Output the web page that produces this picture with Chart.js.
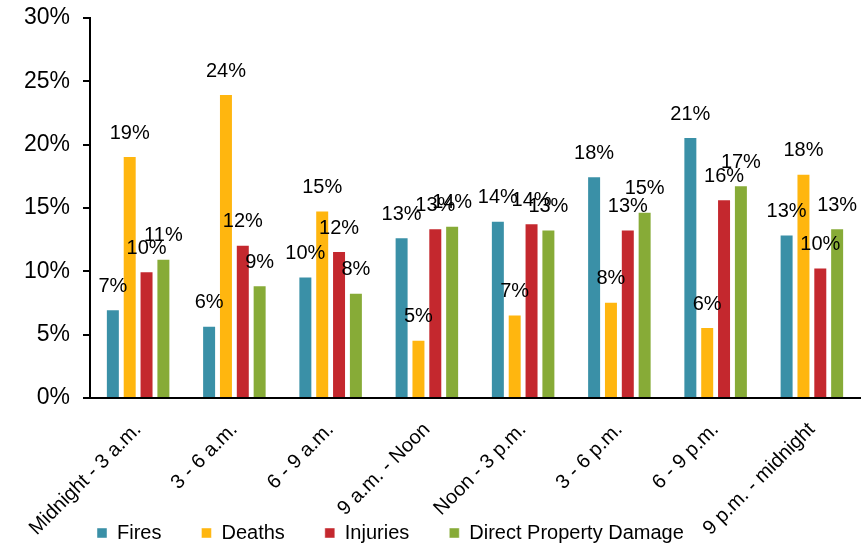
<!DOCTYPE html>
<html>
<head>
<meta charset="utf-8">
<script src="https://cdn.jsdelivr.net/npm/chart.js@4/dist/chart.umd.min.js"></script>
<style>
  html, body { margin: 0; padding: 0; background: #fff; }
  #wrap { width: 865px; height: 546px; }
</style>
</head>
<body>
<div id="wrap"><canvas id="c" width="865" height="546"></canvas></div>
<script>
const categories = ['Midnight - 3 a.m.', '3 - 6 a.m.', '6 - 9 a.m.', '9 a.m. - Noon', 'Noon - 3 p.m.', '3 - 6 p.m.', '6 - 9 p.m.', '9 p.m. - midnight'];
const fires    = [7.0, 5.7, 9.6, 12.7, 14.0, 17.5, 20.6, 12.9];
const deaths   = [19.1, 24.0, 14.8, 4.6, 6.6, 7.6, 5.6, 17.7];
const injuries = [10.0, 12.1, 11.6, 13.4, 13.8, 13.3, 15.7, 10.3];
const damage   = [11.0, 8.9, 8.3, 13.6, 13.3, 14.7, 16.8, 13.4];
const yTicks   = [0, 5, 10, 15, 20, 25, 30];

const FONT = "'Liberation Sans', Arial, sans-serif";

const barLabels = {
  id: 'barLabels',
  afterDatasetsDraw(chart) {
    const ctx = chart.ctx;
    ctx.save();
    ctx.font = '20px ' + FONT;
    ctx.fillStyle = '#000';
    ctx.textAlign = 'center';
    ctx.textBaseline = 'middle';
    chart.data.datasets.forEach((ds, di) => {
      const meta = chart.getDatasetMeta(di);
      meta.data.forEach((bar, i) => {
        ctx.fillText(Math.round(ds.data[i]) + '%', bar.x, bar.y - 23);
      });
    });
    ctx.restore();
  }
};

const layoutTweak = {
  id: 'layoutTweak',
  afterLayout(chart) {
    const lg = chart.legend;
    if (lg && lg.lineWidths) {
      const p = lg.options.labels.padding;
      const start = (lg.left + p + lg.right - lg.lineWidths[0]) / 2;
      const dx = 97 - start;
      lg.left += dx; lg.right += dx;
      lg.top += 7; lg.bottom += 7;
    }
    const xs = chart.scales.x;
    if (xs) { xs.bottom = chart.height; }
  }
};

new Chart(document.getElementById('c'), {
  type: 'bar',
  data: {
    labels: categories,
    datasets: [
      { label: 'Fires', data: fires, backgroundColor: '#3A90A7' },
      { label: 'Deaths', data: deaths, backgroundColor: '#FFB60F' },
      { label: 'Injuries', data: injuries, backgroundColor: '#C4282E' },
      { label: 'Direct Property Damage', data: damage, backgroundColor: '#87AB37' }
    ].map(d => Object.assign(d, { borderColor: 'rgba(255,255,255,0.45)', borderWidth: 1, categoryPercentage: 0.7, barPercentage: 0.83 }))
  },
  options: {
    responsive: false,
    animation: false,
    layout: { padding: { top: 18, right: 5, left: 0, bottom: 0 } },
    plugins: {
      title: { display: false },
      tooltip: { enabled: false },
      legend: {
        position: 'bottom',
        align: 'center',
        labels: {
          boxWidth: 10, boxHeight: 10, padding: 40,
          color: '#000',
          font: { size: 20, family: FONT }
        }
      }
    },
    scales: {
      x: {
        grid: { display: false },
        border: { display: true, color: '#000', width: 2 },
        ticks: {
          color: '#000', font: { size: 20, family: FONT },
          minRotation: 45, maxRotation: 45, autoSkip: false, padding: 12
        },
        afterFit(scale) { scale.height = 78; scale.paddingLeft = 0; scale.paddingRight = 0; }
      },
      y: {
        min: 0, max: 30,
        afterBuildTicks(scale) { scale.ticks = yTicks.map(v => ({ value: v })); },
        grid: { display: true, drawOnChartArea: false, drawTicks: true, tickLength: 7, color: '#000', lineWidth: 2 },
        border: { display: true, color: '#000', width: 2 },
        ticks: {
          color: '#000', font: { size: 23, family: FONT }, padding: 13,
          callback: v => v + '%'
        },
        afterFit(scale) { scale.width = 90; scale.paddingTop = 0; scale.paddingBottom = 0; }
      }
    }
  },
  plugins: [barLabels, layoutTweak]
});
</script>
</body>
</html>
